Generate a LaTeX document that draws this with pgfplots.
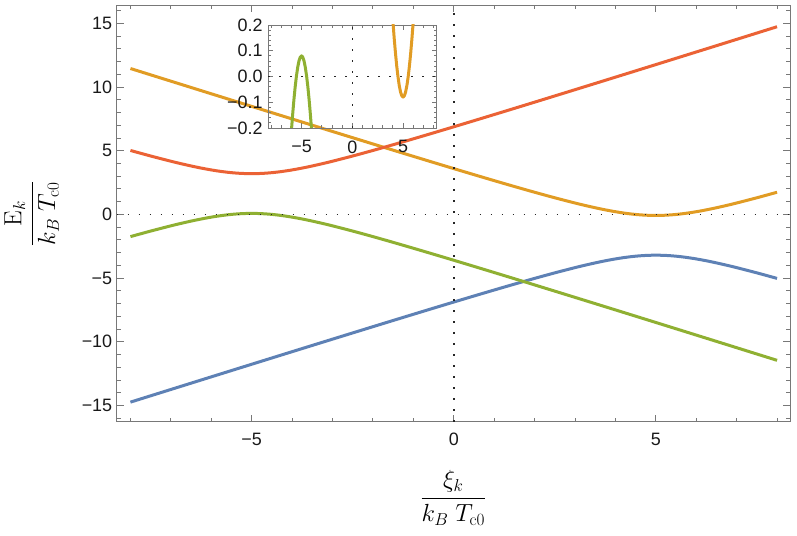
\documentclass[border=0pt]{standalone}
\usepackage[no-math]{fontspec}
\setmainfont{Liberation Sans}
\usepackage{pgfplots}
\pgfplotsset{compat=1.18}
\usepackage{pgfplotstable}
\definecolor{mblue}{HTML}{5E81B5}
\definecolor{morange}{HTML}{E19C24}
\definecolor{mgreen}{HTML}{8FB032}
\definecolor{mred}{HTML}{EB6235}
\definecolor{framegray}{RGB}{120,120,120}

% red / green bands (centred at xi = -5)
\pgfplotstableread{
x red green
-8 5.0214 -1.7414
-7.5 4.5868 -1.3068
-7 4.1764 -0.8964
-6.75 3.9844 -0.7044
-6.5 3.8042 -0.5242
-6.375 3.7195 -0.4395
-6.25 3.6390 -0.3590
-6.125 3.5633 -0.2833
-6 3.4930 -0.2130
-5.875 3.4286 -0.1486
-5.75 3.3709 -0.0909
-5.625 3.3205 -0.0405
-5.5 3.2782 0.0018
-5.375 3.2444 0.0356
-5.25 3.2199 0.0601
-5.125 3.2050 0.0750
-5 3.2000 0.0800
-4.875 3.2050 0.0750
-4.75 3.2199 0.0601
-4.625 3.2444 0.0356
-4.5 3.2782 0.0018
-4.375 3.3205 -0.0405
-4.25 3.3709 -0.0909
-4.125 3.4286 -0.1486
-4 3.4930 -0.2130
-3.875 3.5633 -0.2833
-3.75 3.6390 -0.3590
-3.625 3.7195 -0.4395
-3.5 3.8042 -0.5242
-3.25 3.9844 -0.7044
-3 4.1764 -0.8964
-2.5 4.5868 -1.3068
-2 5.0214 -1.7414
-1.5 5.4719 -2.1919
-1 5.9335 -2.6535
-0.5 6.4027 -3.1227
0 6.8777 -3.5977
0.5 7.3569 -4.0769
1 7.8395 -4.5595
1.5 8.3246 -5.0446
2 8.8117 -5.5317
3 9.7907 -6.5107
4 10.7742 -7.4942
5 11.7610 -8.4810
6 12.7501 -9.4701
7 13.7410 -10.4610
8 14.7333 -11.4533
}\rgtable

% orange / blue bands (centred at xi = +5)
\pgfplotstableread{
x orange blue
-8 11.4533 -14.7333
-7 10.4610 -13.7410
-6 9.4701 -12.7501
-5 8.4810 -11.7610
-4 7.4942 -10.7742
-3 6.5107 -9.7907
-2 5.5317 -8.8117
-1.5 5.0446 -8.3246
-1 4.5595 -7.8395
-0.5 4.0769 -7.3569
0 3.5977 -6.8777
0.5 3.1227 -6.4027
1 2.6535 -5.9335
1.5 2.1919 -5.4719
2 1.7414 -5.0214
2.5 1.3068 -4.5868
3 0.8964 -4.1764
3.25 0.7044 -3.9844
3.5 0.5242 -3.8042
3.625 0.4395 -3.7195
3.75 0.3590 -3.6390
3.875 0.2833 -3.5633
4 0.2130 -3.4930
4.125 0.1486 -3.4286
4.25 0.0909 -3.3709
4.375 0.0405 -3.3205
4.5 -0.0018 -3.2782
4.625 -0.0356 -3.2444
4.75 -0.0601 -3.2199
4.875 -0.0750 -3.2050
5 -0.0800 -3.2000
5.125 -0.0750 -3.2050
5.25 -0.0601 -3.2199
5.375 -0.0356 -3.2444
5.5 -0.0018 -3.2782
5.625 0.0405 -3.3205
5.75 0.0909 -3.3709
5.875 0.1486 -3.4286
6 0.2130 -3.4930
6.125 0.2833 -3.5633
6.25 0.3590 -3.6390
6.375 0.4395 -3.7195
6.5 0.5242 -3.8042
6.75 0.7044 -3.9844
7 0.8964 -4.1764
7.5 1.3068 -4.5868
8 1.7414 -5.0214
}\obtable

\tikzset{
  curve/.style={line width=3bp, line join=round},
  dotline/.style={black!85, line width=1.5bp, dash pattern=on 1.5bp off 9.5bp},
}
\pgfplotsset{
  mframe/.style={
    scale only axis,
    axis line style={framegray, line width=0.9bp},
    every tick/.style={framegray, line width=0.9bp},
    tick label style={font=\fontsize{18}{20}\selectfont, text=black!90},
  },
}

\begin{document}
\begin{tikzpicture}
\begin{axis}[
  mframe,
  width=673.3bp, height=416.2bp,
  xmin=-8.34, xmax=8.32, ymin=-16.27, ymax=16.4,
  xtick={-5,0,5}, xticklabels={−5,0,5},
  minor xtick={-8,-7,...,8},
  ytick={-15,-10,-5,0,5,10,15}, yticklabels={−15,−10,−5,0,5,10,15},
  minor ytick={-16,-15,...,16},
  major tick length=7bp, minor tick length=4bp,
  xticklabel style={yshift=-8bp},
  yticklabel style={xshift=-1bp},
  xlabel={$\displaystyle\frac{\xi_k}{k_B\;T_{\mathrm{c0}}}$},
  ylabel={$\displaystyle\frac{\mathrm{E}_k}{k_B\;T_{\mathrm{c0}}}$},
  label style={font=\fontsize{24}{28}\selectfont},
  xlabel style={at={(axis description cs:0.5,0)}, anchor=center, yshift=-76bp},
  ylabel style={at={(axis description cs:0,0.5)}, anchor=center, yshift=85bp},
]
\addplot[curve, mblue, smooth] table[x=x, y=blue] {\obtable};
\addplot[curve, morange, smooth] table[x=x, y=orange] {\obtable};
\addplot[curve, mgreen, smooth] table[x=x, y=green] {\rgtable};
\addplot[curve, mred, smooth] table[x=x, y=red] {\rgtable};
\draw[dotline] (axis cs:-8.34,0) -- (axis cs:8.32,0);
\draw[dotline] (axis cs:0,-16.27) -- (axis cs:0,16.4);
\end{axis}

\begin{axis}[
  mframe,
  at={(151.3bp,293.7bp)}, anchor=south west,
  width=168.6bp, height=103bp,
  xmin=-8.3, xmax=8.3, ymin=-0.2, ymax=0.2,
  xtick={-5,0,5}, xticklabels={−5,0,5},
  minor xtick={-8,-7,...,8},
  ytick={-0.2,-0.1,0,0.1,0.2}, yticklabels={−0.2,−0.1,0.0,0.1,0.2},
  minor ytick={-0.18,-0.16,-0.14,-0.12,-0.08,-0.06,-0.04,-0.02,0.02,0.04,0.06,0.08,0.12,0.14,0.16,0.18},
  major tick length=5bp, minor tick length=3bp,
  xticklabel style={yshift=-9bp},
  yticklabel style={xshift=-2bp},
]
\addplot[curve, morange] table[x=x, y=orange] {\obtable};
\addplot[curve, mgreen] table[x=x, y=green] {\rgtable};
\draw[dotline] (axis cs:-8.3,0) -- (axis cs:8.3,0);
\draw[dotline] (axis cs:0,-0.2) -- (axis cs:0,0.2);
\end{axis}
\pgfresetboundingbox
\path[use as bounding box] (-116.7bp,-114.3bp) rectangle (680.3bp,421.7bp);
\end{tikzpicture}
\end{document}
